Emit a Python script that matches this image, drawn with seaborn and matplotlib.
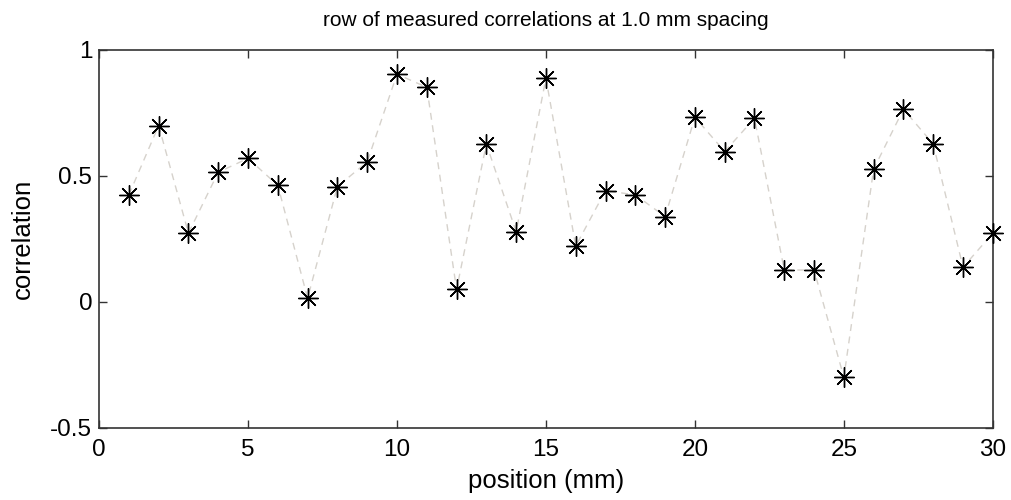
import numpy as np
import pandas as pd
import matplotlib
matplotlib.use("Agg")
import matplotlib.pyplot as plt
import seaborn as sns

# values
position = list(range(1, 31))
correlation = [0.425, 0.70, 0.273, 0.515, 0.57, 0.463, 0.015, 0.458, 0.556, 0.904,
               0.852, 0.050, 0.627, 0.279, 0.888, 0.222, 0.442, 0.425, 0.339, 0.733,
               0.597, 0.729, 0.127, 0.127, -0.299, 0.527, 0.765, 0.627, 0.138, 0.273]
x_ticks = [0, 5, 10, 15, 20, 25, 30]
y_ticks = [-0.5, 0, 0.5, 1]
y_tick_labels = ["-0.5", "0", "0.5", "1"]

sns.set_style("ticks")
plt.rcParams["font.family"] = ["Liberation Sans", "DejaVu Sans"]
plt.rcParams["text.color"] = "black"
plt.rcParams["axes.labelcolor"] = "black"
plt.rcParams["xtick.color"] = "black"
plt.rcParams["ytick.color"] = "black"

df = pd.DataFrame({"position": position, "correlation": correlation})

fig = plt.figure(figsize=(10.11, 5.0), dpi=100)
ax = fig.add_axes([0.098, 0.144, 0.884, 0.756])

sns.lineplot(data=df, x="position", y="correlation", ax=ax,
             color="#d6d2cc", linestyle=(0, (5, 4)), linewidth=1.0)
sns.scatterplot(data=df, x="position", y="correlation", ax=ax,
                marker=(8, 2, 0), color="black", s=200, linewidth=1.0,
                zorder=3, clip_on=False)
sns.scatterplot(data=df, x="position", y="correlation", ax=ax,
                marker="o", color="black", s=7, linewidth=0, zorder=4,
                clip_on=False)

ax.set_xlim(0, 30)
ax.set_ylim(-0.5, 1)
ax.set_xticks(x_ticks)
ax.set_yticks(y_ticks)
ax.set_yticklabels(y_tick_labels)
ax.tick_params(direction="in", top=True, right=True, length=6, width=1,
               labelsize=17.5, color="#333333")
ax.tick_params(axis="x", pad=8)
ax.tick_params(axis="y", pad=5)
for s in ax.spines.values():
    s.set_linewidth(1.2)
    s.set_color("#333333")

ax.set_title("row of measured correlations at 1.0 mm spacing", fontsize=15, pad=17)
ax.set_xlabel("position (mm)", fontsize=18.5, labelpad=6)
ax.set_ylabel("correlation", fontsize=18.5, labelpad=11)

fig.savefig("out.png", dpi=100)
